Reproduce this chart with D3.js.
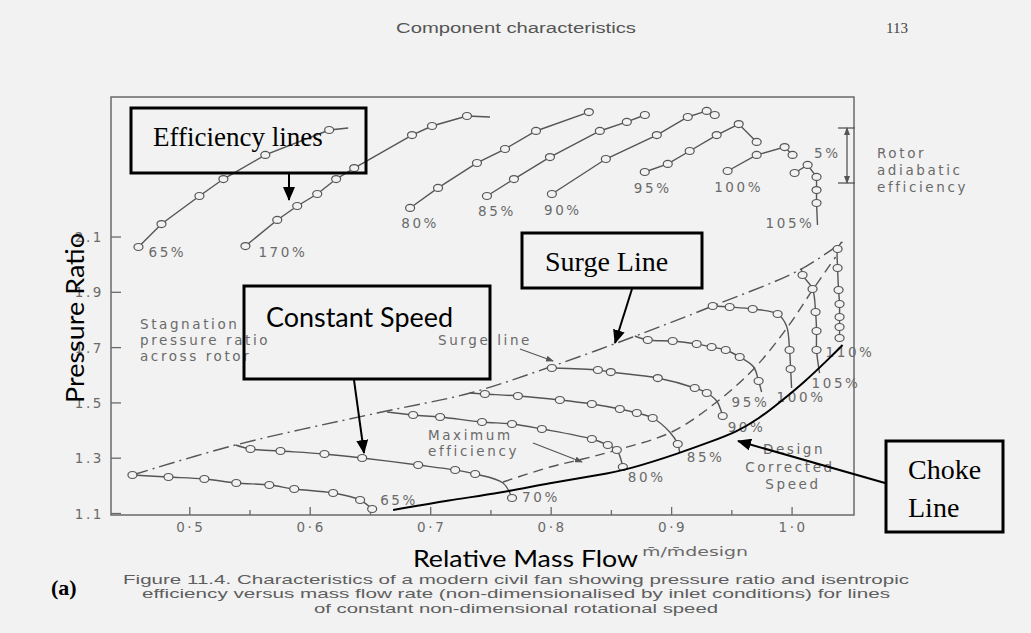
<!DOCTYPE html>
<html><head><meta charset="utf-8">
<script src="https://cdn.jsdelivr.net/npm/d3@7"></script>
<style>
html,body{margin:0;padding:0;background:#f2f2f2;}
svg{display:block;}
</style></head><body>
<svg id="chart" width="1031" height="633"></svg>
<script>
// ---------------- DATA ----------------
const xTicks = [0.5, 0.6, 0.7, 0.8, 0.9, 1.0];
const xTickLabels = ["0·5", "0·6", "0·7", "0·8", "0·9", "1·0"];
const xMinorTicks = [0.55, 0.65, 0.75, 0.85, 0.95];
const yTicks = [1.1, 1.3, 1.5, 1.7, 1.9, 2.1];
const yTickLabels = ["1.1", "1.3", "1.5", "1.7", "1.9", "2.1"];

// constant speed lines: [relative mass flow, pressure ratio, marker]
const speedNames = ["65%", "70%", "80%", "85%", "90%", "95%", "100%", "105%", "110%"];
const speed65 = [[0.4524,1.2392,1],[0.4823,1.2320,1],[0.5121,1.2248,1],[0.5386,1.2103,1],[0.5660,1.2031,1],[0.5867,1.1886,1],[0.6190,1.1741,1],[0.6414,1.1488,1],[0.6514,1.1163,1]];
const speed70 = [[0.5380,1.3477,0],[0.5504,1.3333,1],[0.5753,1.3260,1],[0.6118,1.3152,1],[0.6431,1.3007,1],[0.6896,1.2754,1],[0.7203,1.2573,1],[0.7369,1.2429,1],[0.7600,1.2103,0],[0.7675,1.1561,1]];
const speed80 = [[0.6638,1.4671,0],[0.6854,1.4562,1],[0.7078,1.4490,1],[0.7426,1.4309,1],[0.7675,1.4237,1],[0.7923,1.4056,1],[0.8338,1.3694,1],[0.8470,1.3477,1],[0.8545,1.3297,1],[0.8595,1.2682,1]];
const speed85 = [[0.7327,1.5358,0],[0.7450,1.5322,1],[0.7724,1.5250,1],[0.8072,1.5105,1],[0.8338,1.4960,1],[0.8570,1.4779,1],[0.8711,1.4635,1],[0.8843,1.4454,1],[0.8984,1.3948,0],[0.9051,1.3513,1],[0.9067,1.3188,0]];
const speed90 = [[0.8006,1.6262,1],[0.8388,1.6190,1],[0.8495,1.6117,1],[0.8885,1.5900,1],[0.9192,1.5539,1],[0.9292,1.5358,1],[0.9374,1.5069,0],[0.9424,1.4526,1],[0.9432,1.4382,0]];
const speed95 = [[0.8694,1.7420,0],[0.8802,1.7275,1],[0.9009,1.7239,1],[0.9208,1.7130,1],[0.9332,1.7022,1],[0.9449,1.6913,1],[0.9565,1.6660,1],[0.9681,1.6298,0],[0.9722,1.5792,1],[0.9747,1.5394,0]];
const speed100 = [[0.9341,1.8505,1],[0.9482,1.8468,1],[0.9673,1.8396,1],[0.9880,1.8215,1],[0.9954,1.7781,0],[0.9979,1.6913,1],[0.9988,1.6226,1],[0.9996,1.5539,0]];
const speed105 = [[1.0077,1.9879,0],[1.0087,1.9626,1],[1.0170,1.9119,1],[1.0195,1.8288,1],[1.0203,1.7600,1],[1.0203,1.6913,1],[1.0228,1.6081,0]];
const speed110 = [[1.0411,2.0819,0],[1.0378,2.0566,1],[1.0378,1.9879,1],[1.0386,1.9083,1],[1.0394,1.8577,1],[1.0394,1.8107,1],[1.0394,1.7745,1],[1.0394,1.7347,1]];

// surge line, maximum efficiency line, choke line: [mass flow, pressure ratio]
const surgeLine = [[0.4525,1.2392],[0.5378,1.3477],[0.6555,1.4635],[0.7327,1.5358],[0.7990,1.6298],[0.8678,1.7383],[0.9341,1.8505],[1.0062,1.9807],[1.0419,2.0819]];
const maxEffLine = [[0.7600,1.2139],[0.7990,1.2682],[0.8263,1.2971],[0.8545,1.3297],[0.9001,1.3948],[0.9374,1.5033],[0.9689,1.6262],[0.9963,1.7745],[1.0170,1.9083],[1.0361,2.0277]];
const chokeLine = [[0.6688,1.1127],[0.7161,1.1488],[0.7575,1.1741],[0.7990,1.2103],[0.8404,1.2392],[0.8653,1.2609],[0.9068,1.3188],[0.9316,1.3586],[0.9540,1.3948],[0.9731,1.4454],[0.9880,1.4960],[1.0104,1.5756],[1.0311,1.6624],[1.0419,1.7094]];

// rotor adiabatic efficiency lines: [mass flow, efficiency %, marker]
const effNames = ["65%", "170%", "80%", "85%", "90%", "95%", "100%", "105%"];
const eff65 = [[0.4574,79.18,1],[0.4765,81.27,1],[0.5080,83.82,1],[0.5279,85.36,1],[0.5627,87.55,1],[0.6157,89.82,1],[0.6315,90.0,0]];
const eff70 = [[0.5462,79.27,1],[0.5726,81.64,1],[0.5892,82.91,1],[0.6058,84.0,1],[0.6215,85.36,1],[0.6365,86.36,1],[0.6845,89.36,1],[0.7011,90.18,1],[0.7301,91.09,1],[0.7492,91.0,0]];
const eff80 = [[0.6829,82.73,1],[0.7061,84.55,1],[0.7384,86.82,1],[0.7617,88.09,1],[0.7874,89.73,1],[0.8313,91.45,1]];
const eff85 = [[0.7467,83.82,1],[0.7691,85.36,1],[0.7990,87.36,1],[0.8404,89.73,1],[0.8628,90.55,1],[0.8778,91.18,1]];
const eff90 = [[0.8006,84.0,1],[0.8454,87.18,1],[0.8877,89.36,1],[0.9134,91.0,1],[0.9291,91.55,1],[0.9358,91.18,1]];
const eff95 = [[0.8777,86.0,1],[0.8968,86.73,1],[0.9150,87.91,1],[0.9374,89.36,1],[0.9557,90.36,1],[0.9706,88.73,1]];
const eff100 = [[0.9465,86.09,1],[0.9706,87.55,1],[0.9938,88.27,1],[1.0004,87.55,1]];
const eff105 = [[1.0021,85.91,1],[1.0129,86.64,1],[1.0203,85.55,1],[1.0203,84.36,1],[1.0203,83.18,1],[1.0211,81.18,0]];
const effBar = [85, 90];   // the "5%" scale bar

// ---------------- LAYOUT ----------------
const svg = d3.select("#chart");
const W = 1031, H = 633;
const frame = {left: 111, right: 854, top: 97, bottom: 515};
const gray = "#555", textGray = "#6a6a6a";

const x = d3.scaleLinear().domain([0.4346, 1.0514]).range([frame.left, frame.right]);
const y = d3.scaleLinear().domain([1.0946, 2.6064]).range([frame.bottom, frame.top]);
const e = d3.scaleLinear().domain([85, 90]).range([183, 128]);

svg.append("rect").attr("width", W).attr("height", H).attr("fill", "#f2f2f2");

const defs = svg.append("defs");
defs.append("marker").attr("id", "ahBlack").attr("viewBox", "0 0 14 12")
  .attr("markerUnits", "userSpaceOnUse").attr("markerWidth", 14).attr("markerHeight", 12)
  .attr("refX", 13).attr("refY", 6).attr("orient", "auto")
  .append("path").attr("d", "M0,0 L14,6 L0,12 Z").attr("fill", "#000");
defs.append("marker").attr("id", "ahGray").attr("viewBox", "0 0 8 6")
  .attr("markerUnits", "userSpaceOnUse").attr("markerWidth", 8).attr("markerHeight", 6)
  .attr("refX", 7).attr("refY", 3).attr("orient", "auto-start-reverse")
  .append("path").attr("d", "M0,0 L8,3 L0,6 Z").attr("fill", gray);

// header
svg.append("text").attr("x", 516).attr("y", 33).attr("text-anchor", "middle")
  .attr("font-family", "Liberation Sans, Arial, sans-serif").attr("font-size", 14)
  .attr("fill", "#555").attr("textLength", 240).attr("lengthAdjust", "spacingAndGlyphs")
  .text("Component characteristics");
svg.append("text").attr("x", 886).attr("y", 33)
  .attr("font-family", "Liberation Serif, serif").attr("font-size", 15)
  .attr("fill", "#444").text("113");

// frame
svg.append("rect").attr("x", frame.left).attr("y", frame.top)
  .attr("width", frame.right - frame.left).attr("height", frame.bottom - frame.top)
  .attr("fill", "none").attr("stroke", "#6a6a6a").attr("stroke-width", 1.5);

const figFont = "DejaVu Sans, sans-serif";
function grayText(sel, tx, ty, str, anchor) {
  return sel.append("text").attr("x", tx).attr("y", ty)
    .attr("text-anchor", anchor || "start")
    .attr("font-family", figFont).attr("font-size", 13.5)
    .attr("letter-spacing", 2.6).attr("fill", textGray).text(str);
}

// ticks
svg.append("g").selectAll("line").data(xTicks).join("line")
  .attr("x1", d => x(d)).attr("x2", d => x(d))
  .attr("y1", frame.bottom).attr("y2", frame.bottom - 8)
  .attr("stroke", "#6a6a6a").attr("stroke-width", 1.3);
svg.append("g").selectAll("line").data(xMinorTicks).join("line")
  .attr("x1", d => x(d)).attr("x2", d => x(d))
  .attr("y1", frame.bottom).attr("y2", frame.bottom - 5)
  .attr("stroke", "#6a6a6a").attr("stroke-width", 1.3);
xTicks.forEach((t, i) => grayText(svg, x(t) + 1, 532, xTickLabels[i], "middle"));
svg.append("g").selectAll("line").data(yTicks).join("line")
  .attr("x1", frame.left).attr("x2", frame.left + 10)
  .attr("y1", d => y(d)).attr("y2", d => y(d))
  .attr("stroke", "#6a6a6a").attr("stroke-width", 1.3);
yTicks.forEach((t, i) => grayText(svg, 104, y(t) + 5, yTickLabels[i], "end"));

// line generators
const smooth = d3.line().x(d => x(d[0])).y(d => y(d[1])).curve(d3.curveCatmullRom.alpha(0.5));
const effLine = d3.line().x(d => x(d[0])).y(d => e(d[1]));

// surge (dash-dot) and max efficiency (dashed)
svg.append("path").attr("d", smooth(surgeLine)).attr("fill", "none")
  .attr("stroke", gray).attr("stroke-width", 1.4).attr("stroke-dasharray", "16,5,2,5");
svg.append("path").attr("d", smooth(maxEffLine)).attr("fill", "none")
  .attr("stroke", gray).attr("stroke-width", 1.4).attr("stroke-dasharray", "10,6");

// constant speed lines
const speeds = [speed65, speed70, speed80, speed85, speed90, speed95, speed100, speed105, speed110];
const speedLabelOffset = [[8,-4],[10,4],[5,15],[7,9],[4,12],[-30,15],[-15,14],[-8,15],[-14,19]];
speeds.forEach((s, i) => {
  const g = svg.append("g");
  g.append("path").attr("d", smooth(s)).attr("fill", "none")
    .attr("stroke", gray).attr("stroke-width", 1.4);
  g.selectAll("ellipse").data(s.filter(d => d[2])).join("ellipse")
    .attr("cx", d => x(d[0])).attr("cy", d => y(d[1]))
    .attr("rx", 4.5).attr("ry", 3.5)
    .attr("fill", "#f2f2f2").attr("stroke", gray).attr("stroke-width", 1.2);
  const last = s[s.length - 1];
  grayText(g, x(last[0]) + speedLabelOffset[i][0], y(last[1]) + speedLabelOffset[i][1], speedNames[i]);
});

// efficiency lines
const effs = [eff65, eff70, eff80, eff85, eff90, eff95, eff100, eff105];
const effLabelPos = [
  {ref: "first", dx: 10, dy: 10, anchor: "start"},
  {ref: "first", dx: 13, dy: 11, anchor: "start"},
  {ref: "first", dx: 10, dy: 20, anchor: "middle"},
  {ref: "first", dx: 10, dy: 20, anchor: "middle"},
  {ref: "first", dx: 11, dy: 21, anchor: "middle"},
  {ref: "first", dx: 8, dy: 21, anchor: "middle"},
  {ref: "first", dx: 11, dy: 21, anchor: "middle"},
  {ref: "last", dx: -3, dy: 3, anchor: "end"}
];
effs.forEach((s, i) => {
  const g = svg.append("g");
  g.append("path").attr("d", effLine(s)).attr("fill", "none")
    .attr("stroke", gray).attr("stroke-width", 1.4);
  g.selectAll("ellipse").data(s.filter(d => d[2])).join("ellipse")
    .attr("cx", d => x(d[0])).attr("cy", d => e(d[1]))
    .attr("rx", 4.5).attr("ry", 3.5)
    .attr("fill", "#f2f2f2").attr("stroke", gray).attr("stroke-width", 1.2);
  const p = effLabelPos[i];
  const ref = p.ref === "first" ? s[0] : s[s.length - 1];
  grayText(g, x(ref[0]) + p.dx, e(ref[1]) + p.dy, effNames[i], p.anchor);
});

// 5% scale bar
const barX = 847;
svg.append("line").attr("x1", barX).attr("x2", barX)
  .attr("y1", e(effBar[0])).attr("y2", e(effBar[1]))
  .attr("stroke", gray).attr("stroke-width", 1.3)
  .attr("marker-start", "url(#ahGray)").attr("marker-end", "url(#ahGray)");
effBar.forEach(v => svg.append("line").attr("x1", barX - 9).attr("x2", barX + 8)
  .attr("y1", e(v)).attr("y2", e(v)).attr("stroke", gray).attr("stroke-width", 1.3));
grayText(svg, 814, 158, "5%");
grayText(svg, 877, 158, "Rotor");
grayText(svg, 877, 175, "adiabatic");
grayText(svg, 877, 192, "efficiency");

// in-figure labels
grayText(svg, 140, 329, "Stagnation");
grayText(svg, 140, 345, "pressure ratio");
grayText(svg, 140, 361, "across rotor");
grayText(svg, 438, 345, "Surge line");
svg.append("line").attr("x1", 520).attr("y1", 349).attr("x2", 553).attr("y2", 361)
  .attr("stroke", gray).attr("stroke-width", 1.2).attr("marker-end", "url(#ahGray)");
grayText(svg, 428, 440, "Maximum");
grayText(svg, 428, 456, "efficiency");
svg.append("line").attr("x1", 533).attr("y1", 443).attr("x2", 582).attr("y2", 462)
  .attr("stroke", gray).attr("stroke-width", 1.2).attr("marker-end", "url(#ahGray)");
grayText(svg, 794, 454, "Design", "middle");
grayText(svg, 790, 472, "Corrected", "middle");
grayText(svg, 793, 489, "Speed", "middle");

// choke line (black)
svg.append("path").attr("d", d3.line().x(d => x(d[0])).y(d => y(d[1])).curve(d3.curveBasis)(chokeLine))
  .attr("fill", "none").attr("stroke", "#000").attr("stroke-width", 2);

// annotation boxes
function box(x0, y0, x1, y1) {
  svg.append("rect").attr("x", x0).attr("y", y0).attr("width", x1 - x0).attr("height", y1 - y0)
    .attr("fill", "none").attr("stroke", "#000").attr("stroke-width", 3);
}
function arrow(x0, y0, x1, y1) {
  svg.append("line").attr("x1", x0).attr("y1", y0).attr("x2", x1).attr("y2", y1)
    .attr("stroke", "#000").attr("stroke-width", 2).attr("marker-end", "url(#ahBlack)");
}
const serif = "Liberation Serif, Times New Roman, serif";
box(131, 108, 366, 173);
svg.append("text").attr("x", 153).attr("y", 146).attr("font-family", serif)
  .attr("font-size", 27).attr("fill", "#000").text("Efficiency lines");
arrow(289, 174, 289, 200);

box(522, 233, 702, 288);
svg.append("text").attr("x", 545).attr("y", 271).attr("font-family", serif)
  .attr("font-size", 28).attr("fill", "#000").text("Surge Line");
arrow(632, 289, 615, 343);

box(244, 286, 490, 379);
svg.append("text").attr("x", 266).attr("y", 327).attr("font-family", "Lato, sans-serif")
  .attr("font-size", 26).attr("fill", "#000").attr("textLength", 187)
  .attr("lengthAdjust", "spacingAndGlyphs").text("Constant Speed");
arrow(354, 380, 364, 453);

box(886, 441, 1003, 532);
svg.append("text").attr("x", 908).attr("y", 479).attr("font-family", serif)
  .attr("font-size", 28).attr("fill", "#000").text("Choke");
svg.append("text").attr("x", 908).attr("y", 517).attr("font-family", serif)
  .attr("font-size", 28).attr("fill", "#000").text("Line");
arrow(885, 483, 738, 441);

// axis titles
svg.append("text").attr("transform", "translate(84,318) rotate(-90)")
  .attr("text-anchor", "middle").attr("font-family", "Lato, sans-serif")
  .attr("font-size", 25).attr("fill", "#000").attr("textLength", 170)
  .attr("lengthAdjust", "spacingAndGlyphs").text("Pressure Ratio");
svg.append("text").attr("x", 413).attr("y", 567).attr("font-family", "Lato, sans-serif")
  .attr("font-size", 24).attr("fill", "#000").attr("textLength", 225)
  .attr("lengthAdjust", "spacingAndGlyphs").text("Relative Mass Flow");
svg.append("text").attr("x", 642).attr("y", 556).attr("font-family", figFont)
  .attr("font-size", 12).attr("fill", textGray).attr("textLength", 106)
  .attr("lengthAdjust", "spacingAndGlyphs").text("m\u0304/m\u0304design");

// caption
const capLines = [
  ["Figure 11.4. Characteristics of a modern civil fan showing pressure ratio and isentropic", 786],
  ["efficiency versus mass flow rate (non-dimensionalised by inlet conditions) for lines", 748],
  ["of constant non-dimensional rotational speed", 404]
];
capLines.forEach((c, i) => {
  svg.append("text").attr("x", 516).attr("y", 584 + i * 14.3).attr("text-anchor", "middle")
    .attr("font-family", "Liberation Sans, Arial, sans-serif").attr("font-size", 12.4)
    .attr("fill", "#5e5e5e").attr("textLength", c[1]).attr("lengthAdjust", "spacingAndGlyphs")
    .text(c[0]);
});
svg.append("text").attr("x", 51).attr("y", 595).attr("font-family", serif)
  .attr("font-weight", "bold").attr("font-size", 22).attr("fill", "#000").text("(a)");
</script>
</body></html>
